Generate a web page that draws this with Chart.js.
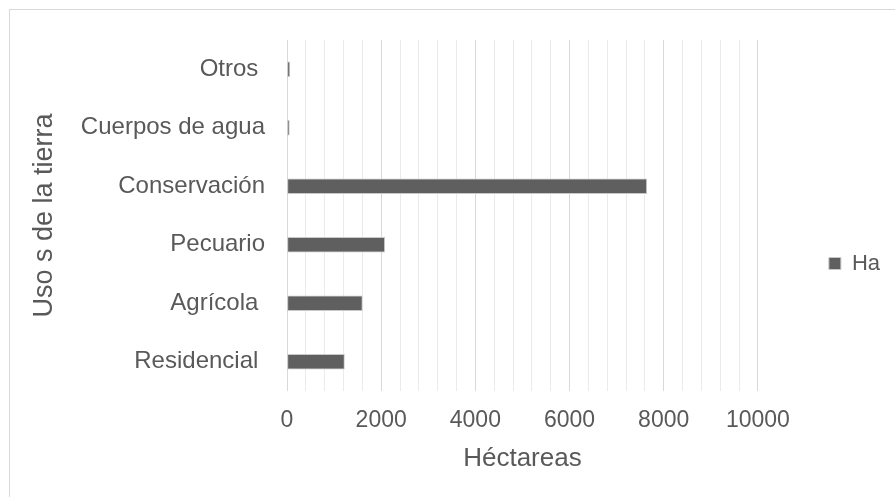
<!DOCTYPE html>
<html>
<head>
<meta charset="utf-8">
<script src="https://cdn.jsdelivr.net/npm/chart.js"></script>
<style>
  body { margin: 0; background: #fff; }
</style>
</head>
<body>
<canvas id="usoChart" width="895" height="497"></canvas>
<script>
const categories = ["Otros ", "Cuerpos de agua", "Conservación", "Pecuario", "Agrícola ", "Residencial "];
const hectareas = [60, 50, 7640, 2075, 1600, 1220];
const seriesName = "Ha";
const xMax = 10000;

const textColor = "#595959";
const font = "'Liberation Sans', Arial, sans-serif";

// light frame round the chart, as in the original
const frame = {
  id: "frame",
  beforeDraw(chart) {
    const ctx = chart.ctx;
    ctx.save();
    ctx.strokeStyle = "#d9d9d9";
    ctx.lineWidth = 1;
    ctx.strokeRect(9.5, 9.5, 900, 500);
    ctx.restore();
  }
};

new Chart("usoChart", {
  type: "bar",
  data: {
    labels: categories,
    datasets: [{
      label: seriesName,
      data: hectareas,
      backgroundColor: "#5f5f5f",
      borderColor: "#c8c8c8",
      borderWidth: 1,
      borderSkipped: false,
      barThickness: 15
    }]
  },
  options: {
    indexAxis: "y",
    responsive: false,
    animation: false,
    layout: { padding: { left: 10, right: 5, top: 40, bottom: 10 } },
    plugins: {
      tooltip: { enabled: false },
      legend: {
        position: "right",
        labels: {
          color: textColor,
          font: { family: font, size: 22 },
          boxWidth: 12,
          boxHeight: 12,
          padding: 71
        }
      }
    },
    scales: {
      x: {
        min: 0,
        max: xMax,
        afterFit: function(scale) { scale.height = 96; },
        border: { display: false },
        grid: {
          drawTicks: false,
          color: function(c) {
            return c.tick && c.tick.value % 2000 === 0 ? "#d9d9d9" : "#ebebeb";
          }
        },
        ticks: {
          stepSize: 400,
          autoSkip: false,
          maxRotation: 0,
          padding: 16,
          color: textColor,
          font: { family: font, size: 23 },
          callback: function(v) { return v % 2000 === 0 ? String(v) : ""; }
        },
        title: {
          display: true,
          text: "Héctareas",
          color: textColor,
          font: { family: font, size: 26 },
          padding: { top: 4, bottom: 13 }
        }
      },
      y: {
        afterFit: function(scale) { scale.width = 277; },
        border: { display: false },
        grid: { display: false, drawTicks: false },
        ticks: {
          padding: 22,
          color: textColor,
          font: { family: font, size: 24 }
        },
        title: {
          display: true,
          text: "Uso s de la tierra",
          color: textColor,
          font: { family: font, size: 27 },
          padding: { top: 18, bottom: 0 }
        }
      }
    }
  },
  plugins: [frame]
});
</script>
</body>
</html>
